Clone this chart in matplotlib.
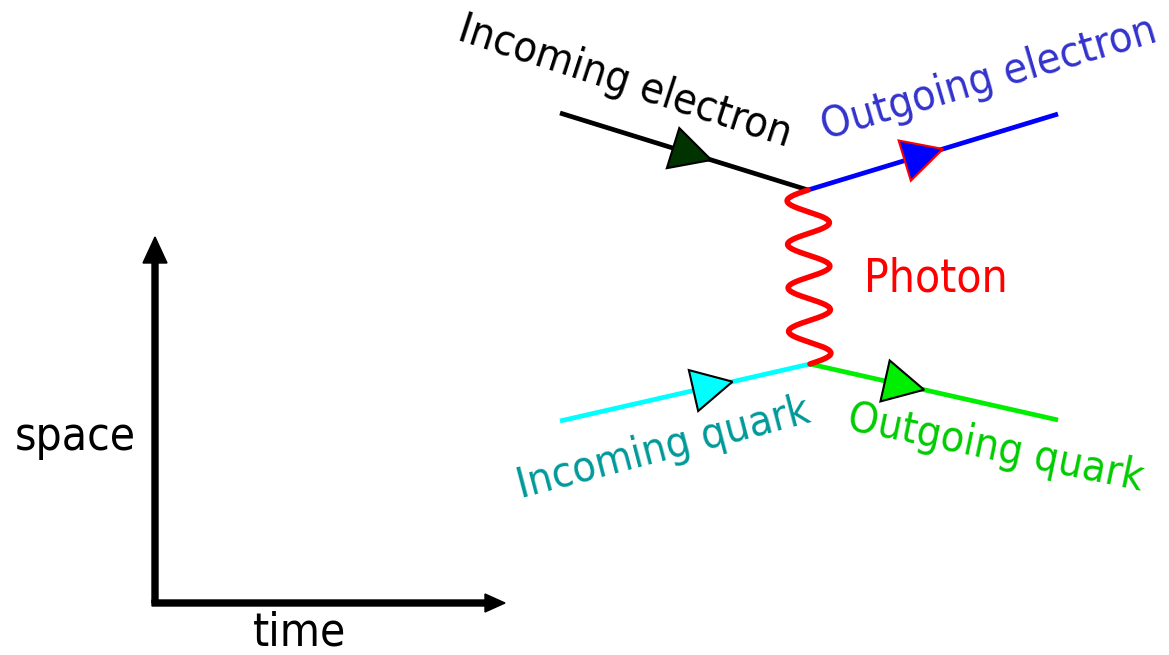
import numpy as np
import matplotlib.pyplot as plt
from matplotlib.patches import Polygon

# vertices of the diagram (pixel coords, y grows downward)
vtx_top = (808, 190)
vtx_bot = (810, 364)
e_in_start = (560, 113)
e_out_end = (1058, 114)
q_in_start = (560, 421)
q_out_end = (1058, 420)

# where the arrow tips sit along each line (fraction of length)
tip_frac = {"e_in": 0.61, "e_out": 0.54, "q_in": 0.69, "q_out": 0.46}

photon_periods = 4
photon_amp = 21

labels = ["Incoming electron", "Outgoing electron", "Incoming quark", "Outgoing quark", "Photon"]
label_colors = ["black", "#3333cc", "#009999", "#00cc00", "red"]

plt.rcParams['font.family'] = ['DejaVu Sans']
fnt = dict(fontstretch='condensed')

fig = plt.figure(figsize=(11.69, 6.55), dpi=100)
ax = fig.add_axes([0, 0, 1, 1])
ax.set_xlim(0, 1169)
ax.set_ylim(655, 0)
ax.axis('off')

lw = 3.4


def fermion(p0, p1, color, frac, fc, ec):
    ax.plot([p0[0], p1[0]], [p0[1], p1[1]], color=color, lw=lw, solid_capstyle='butt', zorder=2)
    d = np.array(p1, float) - np.array(p0, float)
    u = d / np.hypot(*d)
    n = np.array([-u[1], u[0]])
    tip = np.array(p0, float) + frac * d
    L, W = 40, 21
    back = tip - L * u
    tri = Polygon([tip, back + W * n, back - W * n], closed=True, fc=fc, ec=ec, lw=1.5, zorder=3)
    ax.add_patch(tri)


fermion(e_in_start, vtx_top, "black", tip_frac["e_in"], "#003300", "black")
fermion(vtx_top, e_out_end, "blue", tip_frac["e_out"], "blue", "red")
fermion(q_in_start, vtx_bot, "cyan", tip_frac["q_in"], "cyan", "black")
fermion(vtx_bot, q_out_end, "#00ee00", tip_frac["q_out"], "#00ee00", "black")

# photon wiggle
t = np.linspace(0, 1, 400)
py = vtx_top[1] + t * (vtx_bot[1] - vtx_top[1])
px = vtx_top[0] + t * (vtx_bot[0] - vtx_top[0]) - photon_amp * np.sin(2 * np.pi * photon_periods * t)
ax.plot(px, py, color="red", lw=4, zorder=2, solid_capstyle='round')

# labels
ax.text(621, 93, labels[0], color=label_colors[0], fontsize=31, rotation=-18,
        rotation_mode='anchor', ha='center', va='baseline', **fnt)
ax.text(992, 90, labels[1], color=label_colors[1], fontsize=31, rotation=16.4,
        rotation_mode='anchor', ha='center', va='baseline', **fnt)
ax.text(666, 460, labels[2], color=label_colors[2], fontsize=31, rotation=14.7,
        rotation_mode='anchor', ha='center', va='baseline', **fnt)
ax.text(993, 460, labels[3], color=label_colors[3], fontsize=31, rotation=-11.8,
        rotation_mode='anchor', ha='center', va='baseline', **fnt)
ax.text(936, 292, labels[4], color=label_colors[4], fontsize=33, ha='center', va='baseline', **fnt)

# space-time axes
ax.arrow(155, 603, 0, -366, width=6, head_width=24, head_length=26,
         length_includes_head=True, fc='black', ec='black')
ax.arrow(152, 603, 353, 0, width=6, head_width=18, head_length=20,
         length_includes_head=True, fc='black', ec='black')
ax.text(75, 450, "space", fontsize=33, ha='center', va='baseline', **fnt)
ax.text(300, 646, "time", fontsize=33, ha='center', va='baseline', **fnt)

fig.savefig("out.png", dpi=100)
